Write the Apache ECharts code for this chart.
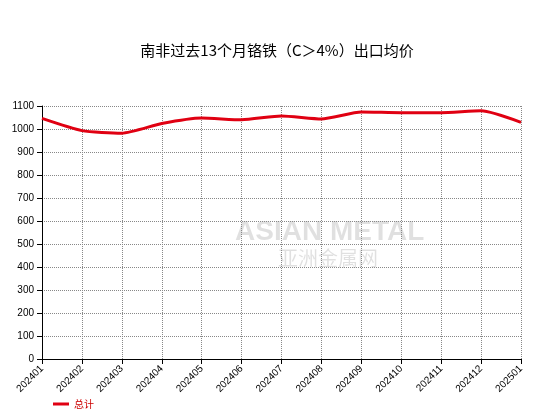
<!DOCTYPE html>
<html>
<head>
<meta charset="utf-8">
<script src="https://cdn.jsdelivr.net/npm/echarts@6/dist/echarts.min.js"></script>
<style>html,body{margin:0;padding:0;background:#fff}#main{width:554px;height:416px}</style>
</head>
<body>
<div id="main"></div>
<script>
// 月份
var months = ['202401','202402','202403','202404','202405','202406','202407','202408','202409','202410','202411','202412','202501'];
// 总计 均价
var totalValues = [1046, 993, 982, 1024, 1048, 1040, 1057, 1044, 1074, 1071, 1071, 1079, 1029];

var chart = echarts.init(document.getElementById('main'));
var option = {
    animation: false,
    title: {
        text: '南非过去13个月铬铁（C＞4%）出口均价',
        left: 'center',
        top: 38,
        textStyle: {color: '#000', fontSize: 15, fontWeight: 'normal', fontFamily: 'Noto Sans CJK SC'}
    },
    graphic: [{
        type: 'text', left: 235, top: 218,
        style: {text: 'ASIAN METAL', fill: 'rgba(0,0,0,0.12)', font: 'bold 28px Liberation Sans'}
    }, {
        type: 'text', left: 278, top: 248,
        style: {text: '亚洲金属网', fill: 'rgba(0,0,0,0.12)', font: '20px "Noto Sans CJK SC"'}
    }],
    legend: {
        left: 48, bottom: 2,
        itemWidth: 16, itemHeight: 3, icon: 'rect',
        textStyle: {color: '#c00', fontSize: 10, fontFamily: 'Noto Sans CJK SC'},
        data: ['总计']
    },
    grid: {left: 42, right: 33, top: 106, bottom: 57},
    xAxis: {
        type: 'category',
        boundaryGap: false,
        data: months,
        axisLine: {lineStyle: {color: '#000'}},
        axisTick: {show: true, lineStyle: {color: '#000'}},
        axisLabel: {rotate: 45, color: '#000', fontSize: 10, fontFamily: 'Liberation Sans', interval: 0},
        splitLine: {show: true, lineStyle: {color: '#888', type: 'dotted'}}
    },
    yAxis: {
        type: 'value',
        min: 0, max: 1100, interval: 100,
        axisLine: {show: true, lineStyle: {color: '#000'}},
        axisTick: {show: true, lineStyle: {color: '#000'}},
        axisLabel: {color: '#000', fontSize: 10, fontFamily: 'Liberation Sans', formatter: function (v) { return String(v); }},
        splitLine: {show: true, lineStyle: {color: '#888', type: 'dotted'}}
    },
    series: [{
        name: '总计',
        type: 'line',
        smooth: 0.2,
        symbol: 'none',
        data: totalValues,
        lineStyle: {color: '#e00012', width: 3},
        itemStyle: {color: '#e00012'}
    }]
};
chart.setOption(option);
</script>
</body>
</html>
